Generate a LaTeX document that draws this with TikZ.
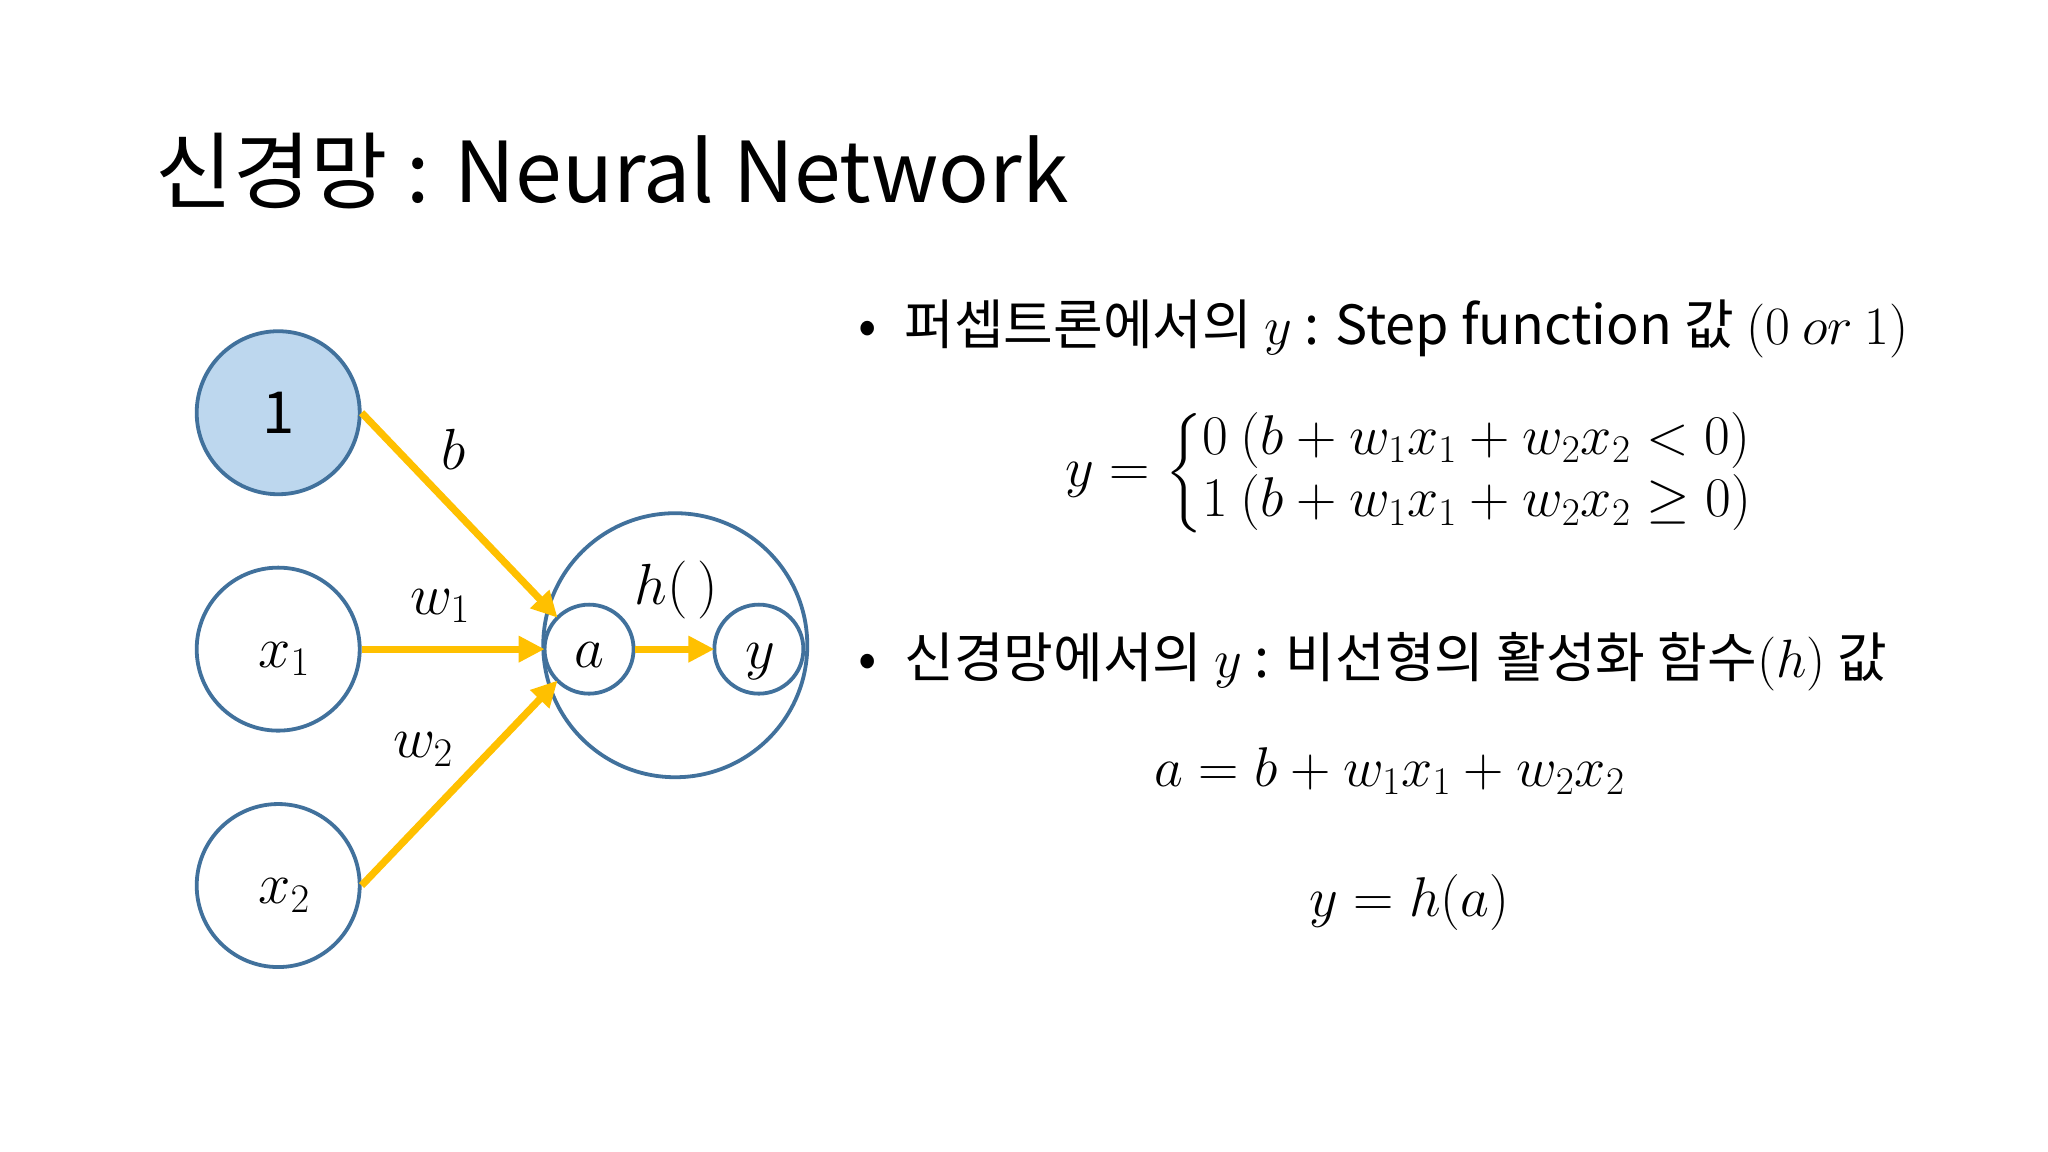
\RequirePackage{fix-cm}
\documentclass[tikz,border=0pt]{standalone}
\usepackage{amsmath}
\usepackage{fontspec}
\setmainfont{Noto Sans CJK KR}
\usetikzlibrary{arrows.meta}
\definecolor{nodeblue}{HTML}{41719C}
\definecolor{fillblue}{HTML}{BDD7EE}
\definecolor{arrowyellow}{HTML}{FFC000}
\begin{document}
\begin{tikzpicture}[x=0.653pt,y=-0.653pt,
  neuron/.style={circle,draw=nodeblue,line width=1.9pt,inner sep=0pt,minimum size=#1},
  arr/.style={draw=arrowyellow,line width=3.6pt,-{Triangle[length=13pt,width=12.5pt]},shorten >=-1pt},
  mathlbl/.style={inner sep=0pt,font=\fontsize{29}{35}\selectfont},
  txt/.style={inner sep=0pt,font=\fontsize{27}{33}\selectfont,anchor=base west},
  eq/.style={inner sep=0pt,font=\fontsize{28}{34}\selectfont}]
\useasboundingbox (0,0) rectangle (1568,882);
\fill[white] (0,0) rectangle (1568,882);
% title
\node[inner sep=0pt,anchor=base west,font=\fontsize{42}{50}\selectfont] (title) at (119,155) {신경망 : Neural Network};
% network
\node[neuron=132pt] (h) at (517,494) {};
\node[neuron=81.5pt,fill=fillblue,font=\fontsize{29}{35}\selectfont] (one) at (213,316) {1};
\node[neuron=81.5pt,mathlbl] (x1) at (213,497) {\hspace{6pt}\raisebox{-9pt}[0pt][0pt]{$x_1$}};
\node[neuron=81.5pt,mathlbl] (x2) at (213,678) {\hspace{6pt}\raisebox{-9pt}[0pt][0pt]{$x_2$}};
\node[neuron=44.5pt,mathlbl] (a) at (451,497) {\raisebox{-9pt}[0pt][0pt]{$a$}};
\node[neuron=44.5pt,mathlbl] (y) at (581,497) {\hspace{2pt}\raisebox{-9.5pt}[0pt][0pt]{$y$}};
\draw[arr] (one.east) -- (a.135);
\draw[arr] (x1.east) -- (a.west);
\draw[arr] (x2.east) -- (a.225);
\draw[arr] (a.east) -- (y.west);
\node[mathlbl] (lb) at (347,344) {$b$};
\node[mathlbl] (lw1) at (337,464) {$w_1$};
\node[mathlbl] (lw2) at (324,574) {$w_2$};
\node[mathlbl] (lh) at (518,452) {$h(\,)$};
% right text
\node[txt] (b1) at (657,264) {\makebox[23pt][l]{•}퍼셉트론에서의 $y$ : Step function 값 $(0\ or\ 1)$};
\node[eq] (e1) at (1079,362) {$y=\renewcommand\arraystretch{0.92}\left\{\begin{array}{@{}l@{}}0\ (b+w_1x_1+w_2x_2<0)\\1\ (b+w_1x_1+w_2x_2\geq 0)\end{array}\right.$};
\node[txt] (b2) at (657,519) {\makebox[23pt][l]{•}신경망에서의 $y$ : 비선형의 활성화 함수$(h)$ 값};
\node[eq,anchor=base] (e2) at (1064,602) {$a=b+w_1x_1+w_2x_2$};
\node[eq,anchor=base] (e3) at (1079,702) {$y=h(a)$};
\end{tikzpicture}
\end{document}
